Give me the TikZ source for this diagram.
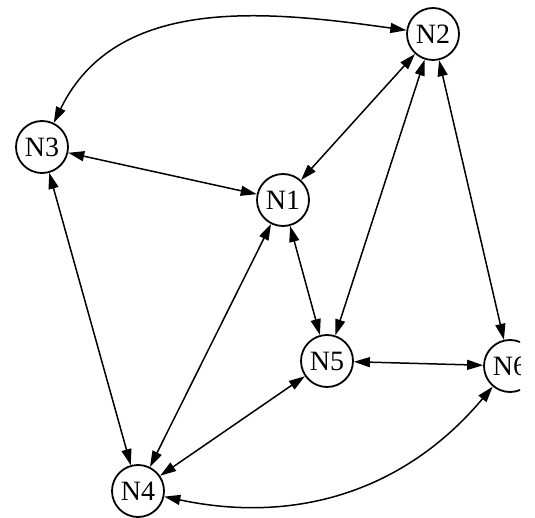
\documentclass[tikz,border=0pt]{standalone}
\usepackage{fontspec}
\setmainfont{Liberation Serif}
\usetikzlibrary{arrows.meta}
\begin{document}
\begin{tikzpicture}[x=1pt,y=1pt,
  netnode/.style={circle,draw,line width=1.8pt,minimum size=52pt,inner sep=0pt,font=\fontsize{28}{28}\selectfont},
  link/.style={line width=1.5pt,{Triangle[length=16pt,width=10pt]}-{Triangle[length=16pt,width=10pt]}}]
\useasboundingbox (0,0) rectangle (535,517);
\clip (0,0) rectangle (520,517);
\node[netnode] (N2) at (433,483) {N2};
\node[netnode] (N3) at (42,370) {N3};
\node[netnode] (N1) at (283,317) {N1};
\node[netnode] (N5) at (327,156) {N5};
\node[netnode] (N6) at (510,151) {N6};
\node[netnode] (N4) at (138,26) {N4};
\draw[link] (N3) to[out=64,in=172] (N2);
\draw[link] (N3) -- (N1);
\draw[link] (N1) -- (N2);
\draw[link] (N2) -- (N5);
\draw[link] (N2) -- (N6);
\draw[link] (N1) -- (N5);
\draw[link] (N1) -- (N4);
\draw[link] (N3) -- (N4);
\draw[link] (N5) -- (N4);
\draw[link] (N5) -- (N6);
\draw[link] (N4) to[out=-12,in=-130] (N6);
\end{tikzpicture}
\end{document}
